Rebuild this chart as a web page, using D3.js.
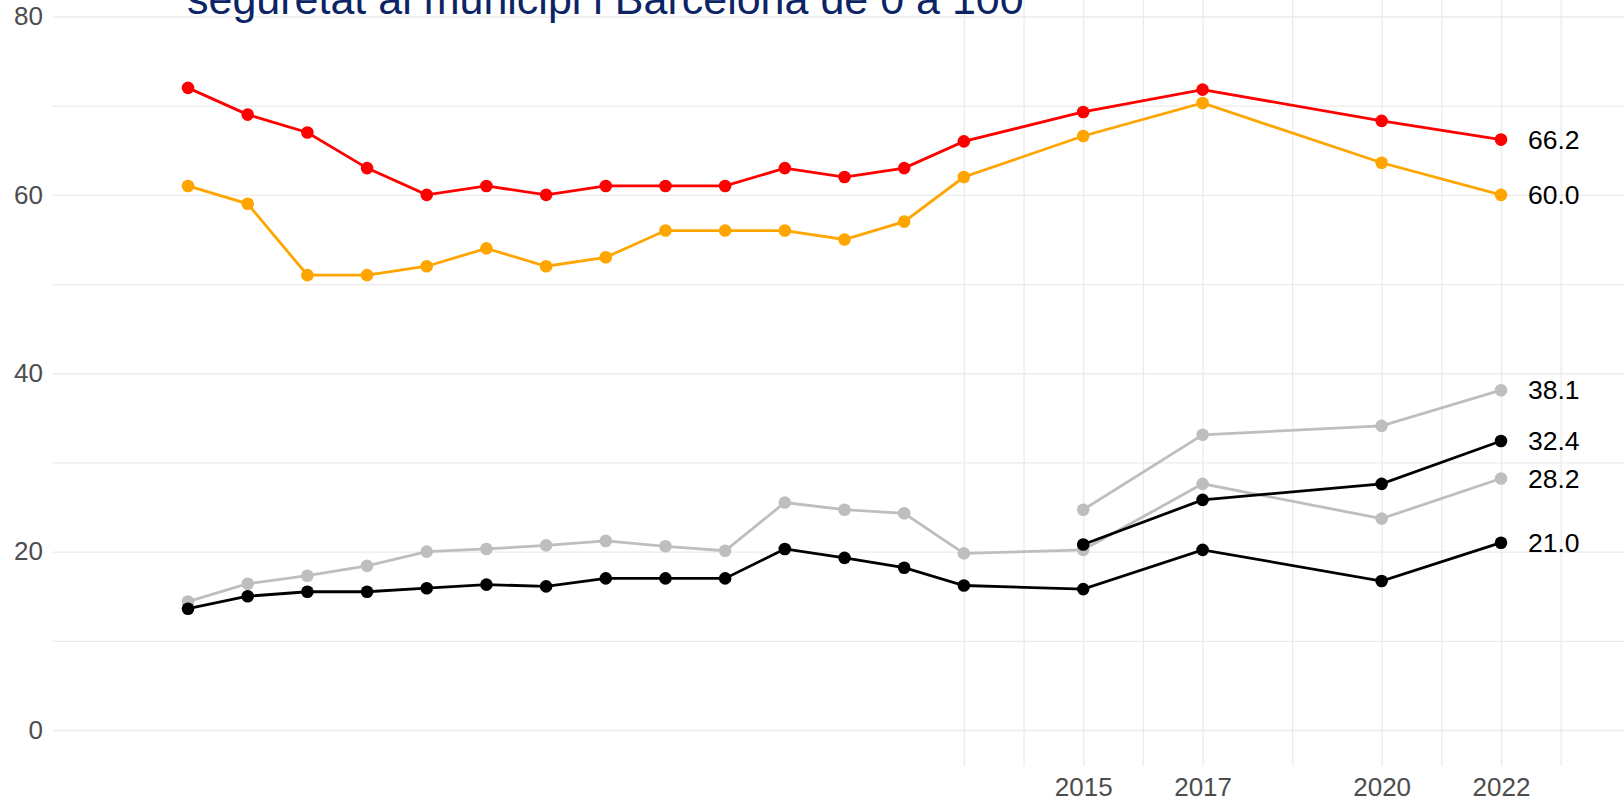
<!DOCTYPE html>
<html>
<head>
<meta charset="utf-8">
<script src="https://cdn.jsdelivr.net/npm/d3@7"></script>
<style>
  body { margin: 0; background: #fff; }
  svg { display: block; font-family: "Liberation Sans", Arial, sans-serif; }
  .grid line { stroke: #ebebeb; stroke-width: 1.3; }
  .grid path { display: none; }
  .tick text { fill: #4d4d4d; font-size: 26px; }
</style>
</head>
<body>
<div id="chart"></div>
<script>
// survey years (the gap after 2013 is real)
var years = [2000, 2001, 2002, 2003, 2004, 2005, 2006, 2007, 2008, 2009, 2010, 2011, 2012, 2013, 2015, 2017, 2020, 2022];
var newYears = [2015, 2017, 2020, 2022];

// values
var redValues = [72, 69, 67, 63, 60, 61, 60, 61, 61, 61, 63, 62, 63, 66, 69.3, 71.8, 68.3, 66.2];
var orangeValues = [61, 59, 51, 51, 52, 54, 52, 53, 56, 56, 56, 55, 57, 62, 66.6, 70.3, 63.6, 60.0];
var greyValues = [14.4, 16.4, 17.3, 18.4, 20.0, 20.3, 20.7, 21.2, 20.6, 20.1, 25.5, 24.7, 24.3, 19.8, 20.2, 27.6, 23.7, 28.2];
var blackValues = [13.6, 15.0, 15.5, 15.5, 15.9, 16.3, 16.1, 17.0, 17.0, 17.0, 20.3, 19.3, 18.2, 16.2, 15.8, 20.2, 16.7, 21.0];
var greyNewValues = [24.7, 33.1, 34.1, 38.1];
var blackNewValues = [20.8, 25.8, 27.6, 32.4];

// axis breaks
var yTicks = [0, 20, 40, 60, 80];
var yMinorTicks = [10, 30, 50, 70];
var xTicks = [2013, 2015, 2017, 2020, 2022];
var xMinorTicks = [2014, 2016, 2018.5, 2021, 2023];

var titleText = "seguretat al municipi i Barcelona de 0 a 100";

var width = 1624, height = 803;
var panelLeft = 53, gridBottom = 766;

var xScale = d3.scaleLinear()
  .domain([2000, 2022])
  .range([188, 1501]);

var yScale = d3.scaleLinear()
  .domain([0, 80])
  .range([730, 16.5]);

var svg = d3.select("#chart").append("svg")
  .attr("width", width)
  .attr("height", height);

// horizontal grid (minor + major)
svg.append("g")
  .attr("class", "grid")
  .attr("transform", "translate(" + panelLeft + ",0)")
  .call(d3.axisLeft(yScale).tickValues(yMinorTicks).tickSize(-(width - panelLeft)).tickFormat(""));

svg.append("g")
  .attr("class", "grid")
  .attr("transform", "translate(" + panelLeft + ",0)")
  .call(d3.axisLeft(yScale).tickValues(yTicks).tickSize(-(width - panelLeft)).tickPadding(10));

// vertical grid, only from 2013 on
svg.append("g")
  .attr("class", "grid")
  .attr("transform", "translate(0," + gridBottom + ")")
  .call(d3.axisBottom(xScale).tickValues(xMinorTicks).tickSize(-gridBottom).tickFormat(""));

var xAxis = svg.append("g")
  .attr("class", "grid")
  .attr("transform", "translate(0," + gridBottom + ")")
  .call(d3.axisBottom(xScale).tickValues(xTicks).tickSize(-gridBottom)
    .tickFormat(function(d) { return d === 2013 ? "" : d; }));

// labels below the grid, not at its top
xAxis.selectAll(".tick text").attr("y", 12);

// title (clipped at the top like the source)
svg.append("text")
  .attr("x", 187)
  .attr("y", 14)
  .attr("font-size", 43)
  .attr("fill", "#0b2466")
  .text(titleText);

var series = [
  {name: "grey", xs: years, ys: greyValues, color: "#bebebe"},
  {name: "greyNew", xs: newYears, ys: greyNewValues, color: "#bebebe"},
  {name: "black", xs: years, ys: blackValues, color: "#000000"},
  {name: "blackNew", xs: newYears, ys: blackNewValues, color: "#000000"},
  {name: "orange", xs: years, ys: orangeValues, color: "#ffa500"},
  {name: "red", xs: years, ys: redValues, color: "#ff0000"}
];

var line = d3.line()
  .x(function(d) { return xScale(d[0]); })
  .y(function(d) { return yScale(d[1]); });

series.forEach(function(s) {
  var pts = s.xs.map(function(x, i) { return [x, s.ys[i]]; });

  svg.append("path")
    .datum(pts)
    .attr("d", line)
    .attr("fill", "none")
    .attr("stroke", s.color)
    .attr("stroke-width", 2.8);

  svg.selectAll(".pt-" + s.name)
    .data(pts)
    .enter().append("circle")
    .attr("class", "pt-" + s.name)
    .attr("cx", function(d) { return xScale(d[0]); })
    .attr("cy", function(d) { return yScale(d[1]); })
    .attr("r", 6.3)
    .attr("fill", s.color);

  // end label
  var last = pts[pts.length - 1];
  svg.append("text")
    .attr("x", xScale(last[0]) + 27)
    .attr("y", yScale(last[1]))
    .attr("dy", "0.35em")
    .attr("font-size", 26.5)
    .attr("fill", "#000")
    .text(last[1].toFixed(1));
});
</script>
</body>
</html>
